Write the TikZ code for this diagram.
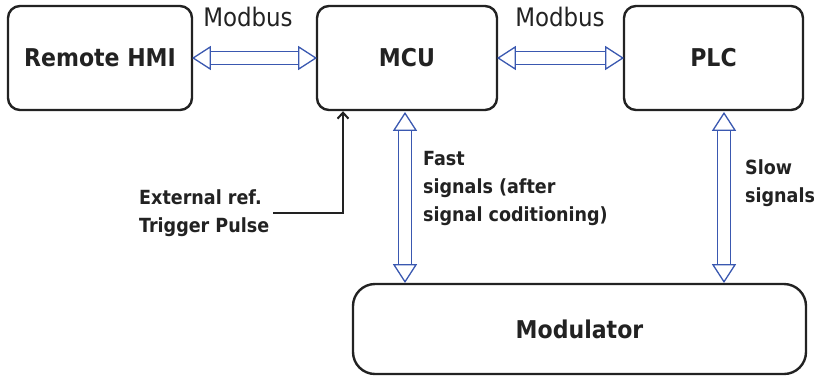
\documentclass[tikz,border=0pt]{standalone}
\usepackage{fontspec}
\setmainfont{DejaVu Sans Condensed}
\usetikzlibrary{calc,arrows.meta}
\definecolor{ink}{RGB}{34,34,34}
\definecolor{linkblue}{RGB}{58,88,176}
% sizes of the hollow two-headed arrows
\newcommand\hl{17pt}  % head length
\newcommand\hw{11pt}  % head half width
\newcommand\sw{6.5pt} % shaft half width
% hollow double-headed block arrow between two points
\newcommand\dblarrow[2]{%
  \coordinate (ta) at (#1);
  \coordinate (tb) at (#2);
  \coordinate (ba) at ($(ta)!\hl!(tb)$);
  \coordinate (bb) at ($(tb)!\hl!(ta)$);
  \draw[dbl] ($(ba)!\sw!90:(tb)$) -- ($(bb)!\sw!-90:(ta)$)
             -- ($(bb)!\sw!90:(ta)$) -- ($(ba)!\sw!-90:(tb)$) -- cycle;
  \draw[dbl] (ta) -- ($(ba)!\hw!90:(tb)$) -- ($(ba)!\hw!-90:(tb)$) -- cycle;
  \draw[dbl] (tb) -- ($(bb)!\hw!90:(ta)$) -- ($(bb)!\hw!-90:(ta)$) -- cycle;
}
\tikzset{
  block/.style={draw=ink, line width=2.4pt, rounded corners=12pt,
    text=ink, font=\fontsize{24.5}{28}\selectfont\bfseries,
    inner sep=0pt},
  dbl/.style={draw=linkblue, line width=1.3pt, line join=miter, fill=white},
  lbl/.style={text=ink, font=\fontsize{25.5}{28}\selectfont, inner sep=0pt},
  side/.style={text=ink, font=\fontsize{19.5}{28}\selectfont\bfseries,
    align=left, inner sep=0pt, anchor=west},
}
\begin{document}
\begin{tikzpicture}[x=1pt,y=-1pt]
  \useasboundingbox (0,0) rectangle (814,376);

  % main blocks
  \node[block, minimum width=184pt, minimum height=104pt] (hmi) at (100,58) {Remote HMI};
  \node[block, minimum width=180pt, minimum height=104pt] (mcu) at (407,58) {MCU};
  \node[block, minimum width=179pt, minimum height=104pt] (plc) at (713.5,58) {PLC};
  \node[block, rounded corners=22pt, minimum width=453pt, minimum height=90pt] (mod) at (579.5,329) {Modulator};

  % bus labels
  \node[lbl] (bus1) at (248,17) {Modbus};
  \node[lbl] (bus2) at (560,17) {Modbus};

  % signal labels
  \node[side] (fast) at (423,188) {Fast\\signals (after\\signal coditioning)};
  \node[side] (slow) at (745,183.5) {Slow\\signals};
  \node[side] (ext) at (139,213) {External ref.\\Trigger Pulse};

  % communication links
  \dblarrow{hmi.east}{mcu.west}
  \dblarrow{mcu.east}{plc.west}
  \dblarrow{$(mcu.south)+(-2,2)$}{$(mcu.south |- mod.north)+(-2,-1)$}
  \coordinate (plcdrop) at ($(plc.south)+(10.5,2)$);
  \dblarrow{plcdrop}{$(plcdrop |- mod.north)+(0,-1)$}

  % trigger input
  \coordinate (trig) at ($(mcu.south)+(-64,0)$);
  \draw[ink, line width=2pt, -{Straight Barb[length=6pt,width=11pt]}]
    ($(ext.east)+(4,0)$) -| (trig);
\end{tikzpicture}
\end{document}
